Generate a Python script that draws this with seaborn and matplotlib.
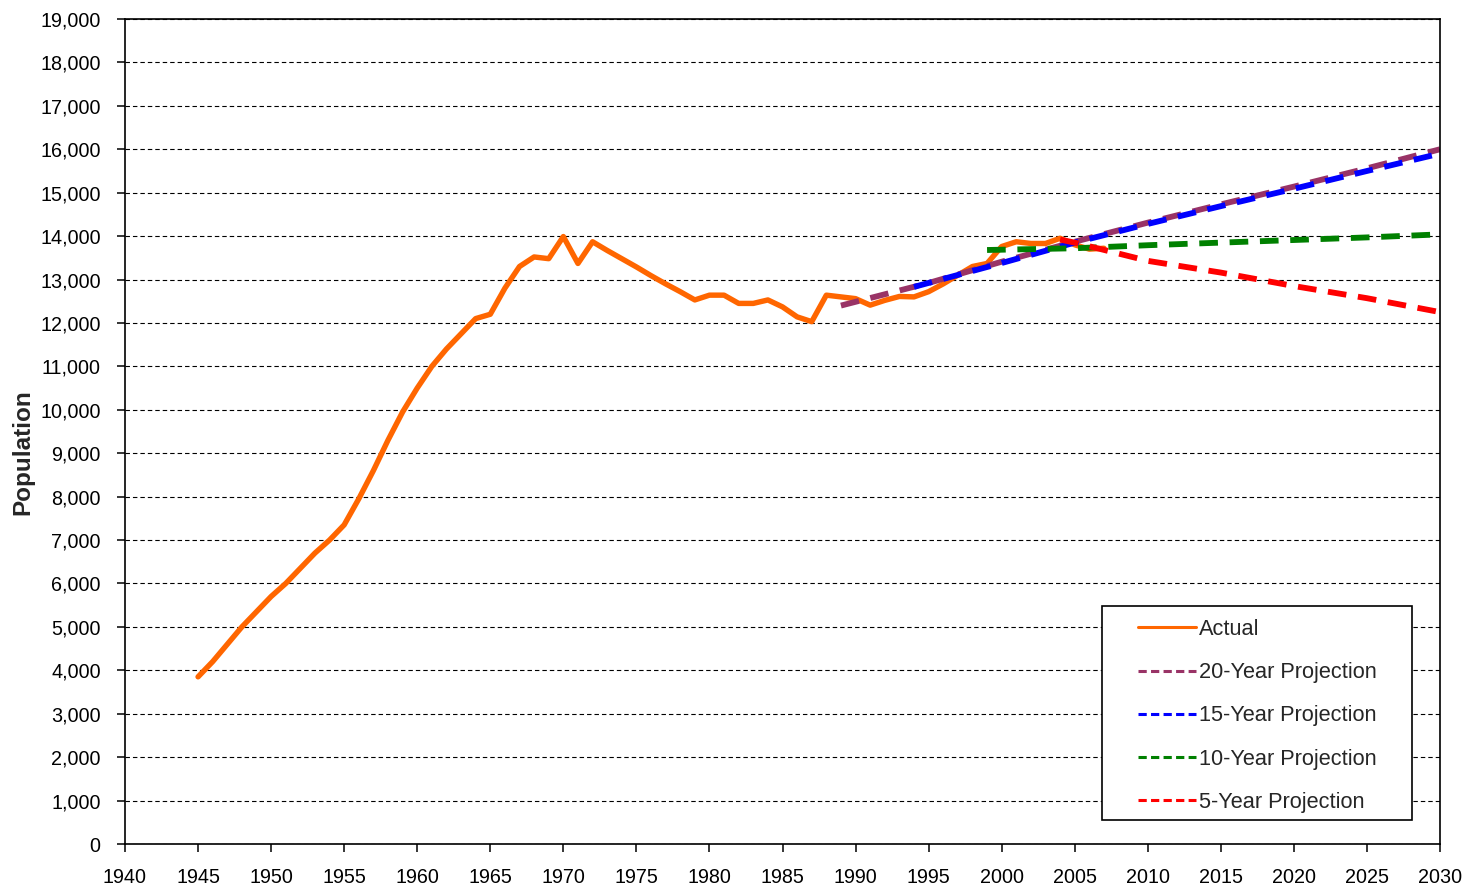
import matplotlib
matplotlib.use("Agg")
import matplotlib.pyplot as plt
from matplotlib.patches import Rectangle
from matplotlib.ticker import FuncFormatter, MultipleLocator
import pandas as pd
import seaborn as sns

# Actual population, one value per year
actual_years = list(range(1945, 2008))
actual_pop = [3850, 4200, 4600, 5000, 5350, 5700, 6000, 6350, 6700, 7000,
              7350, 7950, 8600, 9300, 9950, 10500, 11000, 11400, 11750, 12100,
              12200, 12800, 13300, 13520, 13480, 13990, 13370, 13870, 13670, 13480,
              13290, 13090, 12900, 12720, 12530, 12640, 12640, 12450, 12450, 12530,
              12370, 12140, 12030, 12640, 12600, 12560, 12410, 12520, 12610, 12600,
              12720, 12900, 13100, 13300, 13370, 13760, 13870, 13830, 13830, 13950,
              13800, 13700, 13720]

# Projections
proj20_years = [1989, 1995, 2000, 2005, 2010, 2015, 2020, 2025, 2030]
proj20_pop = [12400, 12920, 13410, 13870, 14310, 14730, 15140, 15560, 16000]

proj15_years = [1994, 2000, 2005, 2010, 2015, 2020, 2025, 2030]
proj15_pop = [12830, 13380, 13850, 14280, 14690, 15090, 15500, 15900]

proj10_years = [1999, 2005, 2010, 2015, 2020, 2025, 2030]
proj10_pop = [13680, 13720, 13790, 13850, 13910, 13970, 14040]

proj5_years = [2004, 2005, 2010, 2015, 2020, 2025, 2030]
proj5_pop = [13920, 13850, 13430, 13160, 12850, 12570, 12250]

series = [
    ("Actual", actual_years, actual_pop, "#FF6600", "-"),
    ("20-Year Projection", proj20_years, proj20_pop, "#993366", (0, (3.2, 2.0))),
    ("15-Year Projection", proj15_years, proj15_pop, "#0000FF", (0, (3.2, 2.0))),
    ("10-Year Projection", proj10_years, proj10_pop, "#008000", (0, (3.2, 2.0))),
    ("5-Year Projection", proj5_years, proj5_pop, "#FF0000", (0, (3.2, 2.0))),
]

sns.set_style("white")
plt.rcParams['font.family'] = ['Liberation Sans', 'DejaVu Sans']

fig = plt.figure(figsize=(14.72, 8.9), dpi=100)
ax = fig.add_axes([125 / 1472, 46 / 890, 1315 / 1472, 825 / 890])

for name, yrs, vals, col, ls in series:
    df = pd.DataFrame({"year": yrs, "population": vals})
    lw = 3.9 if ls == "-" else 4.2
    sns.lineplot(data=df, x="year", y="population", color=col, linewidth=lw,
                 linestyle=ls, label=name, ax=ax, solid_capstyle="round")

ax.set_xlim(1940, 2030)
ax.set_ylim(0, 19000)
ax.xaxis.set_major_locator(MultipleLocator(5))
ax.yaxis.set_major_locator(MultipleLocator(1000))
ax.yaxis.set_major_formatter(FuncFormatter(lambda v, p: f"{v:,.0f}"))
ax.tick_params(axis="both", direction="out", length=5.5, width=1.1,
               labelsize=14.2, pad=12, colors="black", left=True, bottom=True)

ax.set_axisbelow(True)
ax.yaxis.grid(True, color="black", linewidth=0.8, linestyle=(0, (4, 2.7)))
ax.xaxis.grid(False)
for sp in ax.spines.values():
    sp.set_color("black")
    sp.set_linewidth(1.2)

ax.set_xlabel("")
ax.set_ylabel("Population", fontsize=17.5, fontweight="bold")
ax.yaxis.set_label_coords(-0.069, 0.475)

# legend frame drawn separately so the padding matches the reference
x0, y0 = (1102 - 125) / 1315, (844 - 820) / 825
w, h = (1412 - 1102) / 1315, (820 - 606) / 825
ax.add_patch(Rectangle((x0, y0), w, h, transform=ax.transAxes, facecolor="white",
                       edgecolor="black", linewidth=1.2, zorder=6, clip_on=False))
leg = ax.legend(loc="center", bbox_to_anchor=(x0 + w / 2, y0 + h / 2 - 3 / 825),
                frameon=False, fontsize=15.7, handlelength=2.7, handletextpad=0.1,
                labelspacing=1.02, borderpad=0.3)
leg.set_zorder(7)
for line in leg.get_lines():
    line.set_linewidth(2.2)
    if line.get_linestyle() != "-":
        line.set_linestyle((0, (2.7, 1.4)))

fig.savefig("out.png", dpi=100)
